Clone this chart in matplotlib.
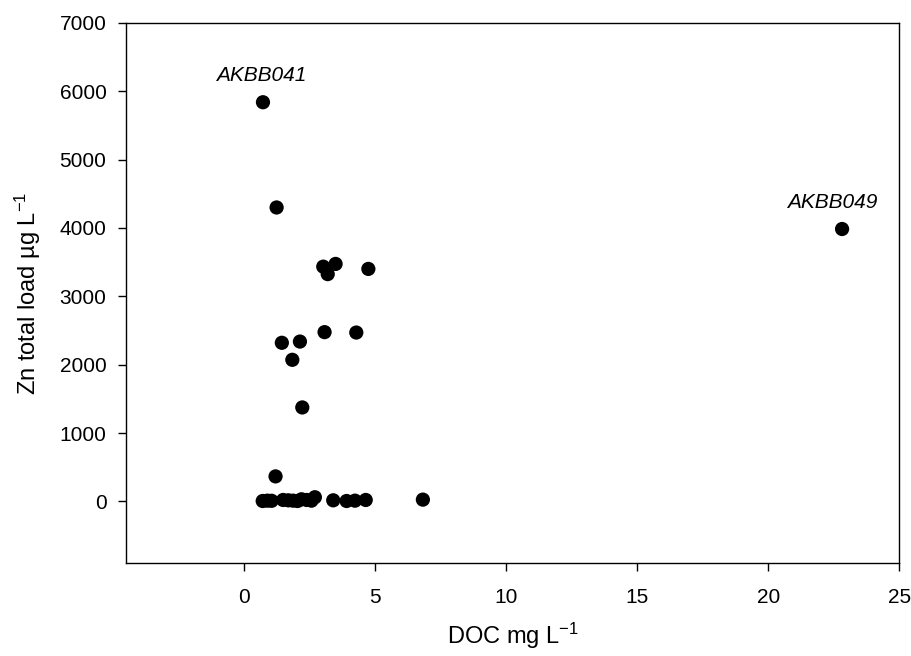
import matplotlib.pyplot as plt

plt.rcParams["font.family"] = ["Liberation Sans", "DejaVu Sans"]
plt.rcParams["mathtext.fontset"] = "custom"
plt.rcParams["mathtext.rm"] = "Liberation Sans"
plt.rcParams["mathtext.it"] = "Liberation Sans:italic"

OUT_PNG = "out.png"

# DOC (mg/L) and total Zn load (ug/L) per sampling site
doc = [0.73, 1.25, 22.82,
       3.03, 3.50, 3.20, 4.75,
       1.45, 2.14, 1.85, 3.08, 4.29, 2.23, 1.21,
       0.72, 0.90, 1.06, 1.50, 1.70, 1.88, 2.05, 2.20, 2.40, 2.58, 2.71,
       3.41, 3.92, 4.24, 4.65, 6.83]
zn = [5840, 4300, 3985,
      3434, 3474, 3325, 3401,
      2320, 2338, 2071, 2476, 2470, 1374, 365,
      5, 10, 8, 20, 15, 10, 5, 30, 20, 10, 60,
      15, 5, 10, 20, 25]

# labelled outliers: (site, doc, zn, x offset in points)
labels = [("AKBB041", 0.73, 5840, -1), ("AKBB049", 22.82, 3985, -7)]

fig = plt.figure(figsize=(9.12, 6.56), dpi=100)
ax = fig.add_axes([0.138, 0.142, 0.848, 0.823])

ax.scatter(doc, zn, s=105, c="black", edgecolors="none", zorder=3)

for name, x, y, dx in labels:
    ax.annotate(name, (x, y), xytext=(dx, 15), textcoords="offset points",
                ha="center", va="baseline", fontsize=15, style="italic")

ax.set_xlim(-4.5, 25)
ax.set_ylim(-900, 7000)
ax.set_xticks(range(0, 26, 5))
ax.set_yticks(range(0, 7001, 1000))
ax.tick_params(axis="both", direction="out", length=6, width=1, labelsize=15)
ax.tick_params(axis="x", pad=12)
ax.tick_params(axis="y", pad=8)
for sp in ax.spines.values():
    sp.set_linewidth(1)

ax.set_xlabel(r"DOC mg L$^{-1}$", fontsize=17, labelpad=10)
ax.set_ylabel(r"Zn total load µg L$^{-1}$", fontsize=17, labelpad=12)

fig.savefig(OUT_PNG, dpi=100)
plt.close(fig)
